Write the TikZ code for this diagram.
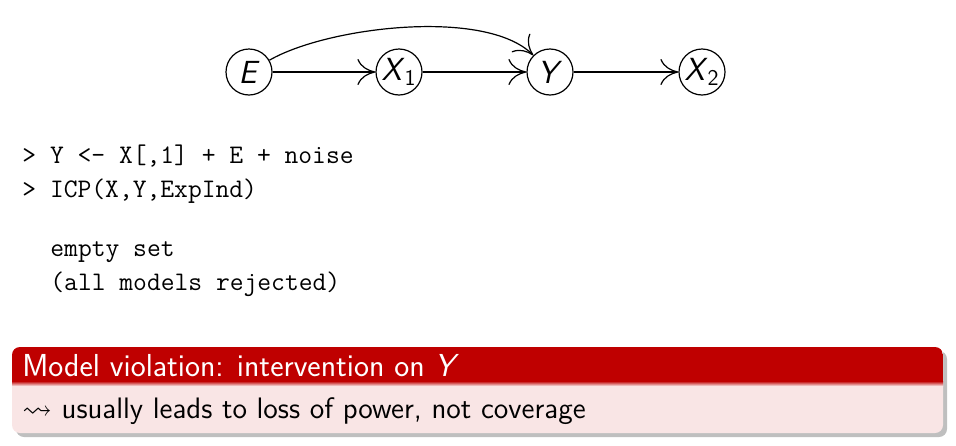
\documentclass[tikz,border=0pt]{standalone}
\usepackage{amssymb}
\usetikzlibrary{arrows.meta,shadows}
\renewcommand{\familydefault}{\sfdefault}
\definecolor{blockred}{RGB}{191,0,0}
\colorlet{blockbody}{blockred!10}
\newcommand{\cvar}[1]{\textit{#1}}
\tikzset{
  varnode/.style={circle, draw, line width=0.6pt, minimum size=23pt, inner sep=0pt,
    font=\fontsize{16}{18}\selectfont},
  causal/.style={line width=0.6pt, -{To[length=9pt,width=13pt]}},
  codeline/.style={anchor=base west, inner sep=0pt, font=\ttfamily\fontsize{13.4}{17}\selectfont},
  blocktext/.style={anchor=base west, inner sep=0pt, font=\fontsize{14.8}{17}\selectfont},
}
\begin{document}
\begin{tikzpicture}[x=0.5pt,y=0.5pt]
  \useasboundingbox (0,0) rectangle (956,-445);
  % graph
  \node[varnode] (E) at (249,-72) {\cvar{E}};
  \node[varnode] (X1) at (399,-72) {\cvar{X}\textsubscript{1}};
  \node[varnode] (Y) at (550,-72) {\cvar{Y}};
  \node[varnode] (X2) at (702,-72) {\cvar{X}\textsubscript{2}};
  \draw[causal] (E) -- (X1);
  \draw[causal] (X1) -- (Y);
  \draw[causal] (Y) -- (X2);
  \draw[causal] (E) to[out=30,in=135,looseness=0.65] (Y);
  % R code
  \node[codeline] (cmda) at (22,-163) {> Y <- X[,1] + E + noise};
  \node[codeline] (cmdb) at (22,-197) {> ICP(X,Y,ExpInd)};
  \node[codeline] (outa) at (50,-256) {empty set};
  \node[codeline] (outb) at (50,-290) {(all models rejected)};
  % block
  \path[fill=blockbody, rounded corners=4pt,
    drop shadow={shadow xshift=2pt, shadow yshift=-2pt, opacity=0.5}]
    (12,-347) rectangle (943,-433);
  \begin{scope}
    \clip[rounded corners=4pt] (12,-347) rectangle (943,-433);
    \fill[blockred] (12,-347) rectangle (943,-381);
    \shade[top color=blockred, bottom color=blockbody] (12,-381) rectangle (943,-386);
  \end{scope}
  \node[blocktext, text=white, font=\fontsize{15.9}{18}\selectfont] (title) at (22,-376)
    {Model violation: intervention on \cvar{Y}};
  \node[blocktext] (msg) at (22,-418) {$\leadsto$ usually leads to loss of power, not coverage};
\end{tikzpicture}
\end{document}
